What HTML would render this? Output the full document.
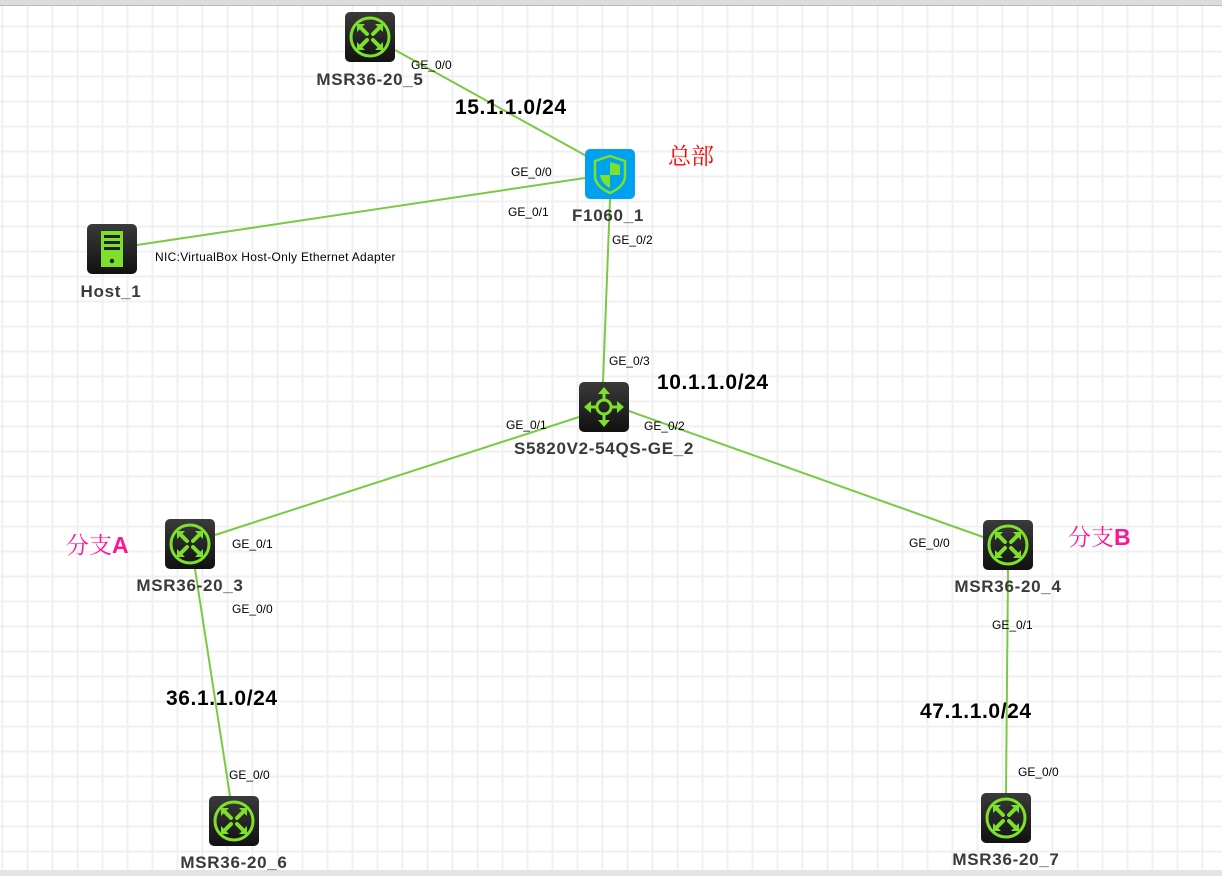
<!DOCTYPE html>
<html><head><meta charset="utf-8"><style>
html,body{margin:0;padding:0;width:1222px;height:876px;overflow:hidden;background:#fff}
svg{display:block}
.lbl{font-family:"Liberation Sans",sans-serif;font-weight:bold;font-size:17px;letter-spacing:0.7px;fill:#3a3a3a;text-anchor:middle}
.port{font-family:"Liberation Sans",sans-serif;font-size:12px;fill:#000}
.net{font-family:"Liberation Sans",sans-serif;font-weight:bold;font-size:21px;letter-spacing:0.6px;fill:#000}
.cn{font-family:"Liberation Sans","Noto Serif CJK SC",serif;font-size:23px}
</style></head><body>
<svg width="1222" height="876" xmlns="http://www.w3.org/2000/svg">
<defs>
<pattern id="g" x="1.5" y="0.5" width="25" height="25" patternUnits="userSpaceOnUse">
<rect x="0" y="0" width="2" height="25" fill="#f0f0f0"/><rect x="0" y="0" width="25" height="2" fill="#f0f0f0"/>
</pattern>
<linearGradient id="bk" x1="0" y1="0" x2="0" y2="1"><stop offset="0" stop-color="#3a3a3a"/><stop offset="1" stop-color="#111"/></linearGradient>
<g id="rt">
<rect x="0" y="0" width="50" height="50" rx="5" fill="url(#bk)"/>
<circle cx="25" cy="25" r="19" fill="none" stroke="#7de02a" stroke-width="3"/>
<g stroke="#7de02a" stroke-width="4" fill="none" stroke-linecap="round">
<path d="M15 15 L22 22 M35 15 L28 22 M15 35 L22 28 M35 35 L28 28"/>
</g>
<g fill="#7de02a">
<path d="M12 12 h8 l-8 8z M38 12 h-8 l8 8z M12 38 h8 l-8 -8z M38 38 h-8 l8 -8z"/>
</g>
</g>
</defs>
<rect width="1222" height="876" fill="url(#g)"/>
<rect x="0" y="0" width="1222" height="5" fill="#dcdcdc"/><rect x="0" y="5" width="1222" height="1" fill="#b8b8b8"/>
<rect x="0" y="870" width="1222" height="6" fill="#e4e4e4"/>
<g stroke="#7ac943" stroke-width="2">
<line x1="395" y1="50" x2="590" y2="158"/>
<line x1="137" y1="245" x2="585" y2="178"/>
<line x1="610" y1="199" x2="603" y2="382"/>
<line x1="579" y1="417" x2="215" y2="535"/>
<line x1="629" y1="411" x2="983" y2="537"/>
<line x1="195" y1="569" x2="230" y2="796"/>
<line x1="1008" y1="570" x2="1006" y2="794"/>
</g>
<use href="#rt" x="345" y="12"/>
<use href="#rt" x="165" y="519"/>
<use href="#rt" x="983" y="520"/>
<use href="#rt" x="209" y="796"/>
<use href="#rt" x="981" y="793"/>
<rect x="585" y="149" width="50" height="50" rx="5" fill="#00a2ee"/>
<path d="M610 156 L625 161 L625 176 Q625 186 610 193 Q595 186 595 176 L595 161 Z" fill="none" stroke="#7de02a" stroke-width="2.5"/>
<path d="M610 162 L620 165 L620 175 L610 175 Z M610 175 L600 175 Q601 183 610 188 Z" fill="#7de02a"/>
<rect x="87" y="224" width="50" height="50" rx="5" fill="url(#bk)"/>
<rect x="101" y="231" width="22" height="36" fill="#7de02a"/>
<rect x="104" y="235" width="16" height="3" fill="#222"/><rect x="104" y="241" width="16" height="3" fill="#222"/><rect x="104" y="247" width="16" height="3" fill="#222"/>
<circle cx="112" cy="261" r="2.2" fill="#222"/>
<rect x="579" y="382" width="50" height="50" rx="5" fill="url(#bk)"/>
<circle cx="604" cy="407" r="7" fill="none" stroke="#7de02a" stroke-width="3"/>
<g stroke="#7de02a" stroke-width="3"><line x1="604" y1="392" x2="604" y2="400"/><line x1="604" y1="414" x2="604" y2="422"/><line x1="589" y1="407" x2="597" y2="407"/><line x1="611" y1="407" x2="619" y2="407"/></g>
<g fill="#7de02a"><path d="M604 387 l-6 7 h12z M604 427 l-6 -7 h12z M584 407 l7 -6 v12z M624 407 l-7 -6 v12z"/></g>
<text class="lbl" x="370" y="85">MSR36-20_5</text>
<text class="lbl" x="608" y="221">F1060_1</text>
<text class="lbl" x="111" y="297">Host_1</text>
<text class="lbl" x="604" y="454">S5820V2-54QS-GE_2</text>
<text class="lbl" x="190" y="591">MSR36-20_3</text>
<text class="lbl" x="1008" y="592">MSR36-20_4</text>
<text class="lbl" x="234" y="868">MSR36-20_6</text>
<text class="lbl" x="1006" y="865">MSR36-20_7</text>
<g class="port">
<text x="411" y="69">GE_0/0</text>
<text x="511" y="176">GE_0/0</text>
<text x="508" y="216">GE_0/1</text>
<text x="612" y="244">GE_0/2</text>
<text x="155" y="261" style="letter-spacing:0.3px">NIC:VirtualBox Host-Only Ethernet Adapter</text>
<text x="609" y="365">GE_0/3</text>
<text x="506" y="429">GE_0/1</text>
<text x="644" y="430">GE_0/2</text>
<text x="232" y="548">GE_0/1</text>
<text x="232" y="613">GE_0/0</text>
<text x="909" y="547">GE_0/0</text>
<text x="992" y="629">GE_0/1</text>
<text x="229" y="779">GE_0/0</text>
<text x="1018" y="776">GE_0/0</text>
</g>
<g class="net">
<text x="455" y="114">15.1.1.0/24</text>
<text x="657" y="389">10.1.1.0/24</text>
<text x="166" y="705">36.1.1.0/24</text>
<text x="920" y="718">47.1.1.0/24</text>
</g>
<text class="cn" x="668" y="164" fill="#ff0000">总部</text>
<text class="cn" x="66" y="553" fill="#ff1493">分支<tspan font-family="Liberation Sans" font-weight="bold">A</tspan></text>
<text class="cn" x="1068" y="545" fill="#ff1493">分支<tspan font-family="Liberation Sans" font-weight="bold">B</tspan></text>
</svg>
</body></html>
